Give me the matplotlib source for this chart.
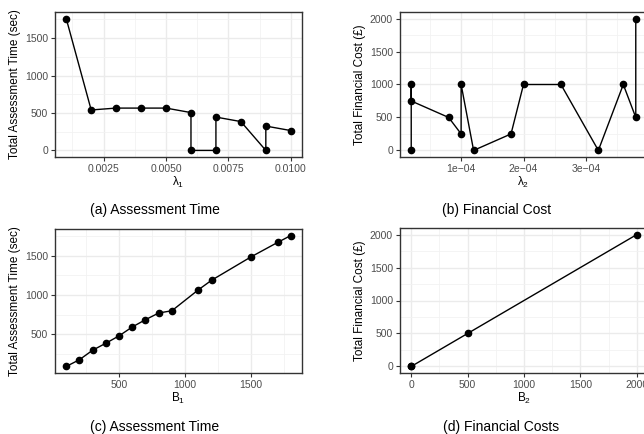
import numpy as np
import matplotlib.pyplot as plt
from matplotlib.ticker import MultipleLocator, FuncFormatter

plt.rcParams['font.family'] = ['Liberation Sans', 'DejaVu Sans']
plt.rcParams['mathtext.fontset'] = 'custom'
plt.rcParams['mathtext.rm'] = 'Liberation Sans'
plt.rcParams['mathtext.it'] = 'Liberation Sans'

# (a) assessment time vs lambda_1
lam1 = [0.001, 0.002, 0.003, 0.004, 0.005, 0.006, 0.006, 0.007, 0.007, 0.008, 0.009, 0.009, 0.010]
time_a = [1760, 540, 565, 565, 565, 505, 0, 0, 445, 385, 0, 325, 265]

# (b) financial cost vs lambda_2
lam2 = [2e-5, 2e-5, 2e-5, 8e-5, 1e-4, 1e-4, 1.2e-4, 1.8e-4, 2e-4, 2.6e-4, 3.2e-4, 3.6e-4, 3.8e-4, 3.8e-4]
cost_b = [0, 1000, 750, 500, 250, 1000, 0, 250, 1000, 1000, 0, 1000, 500, 2000]

# (c) assessment time vs B_1
b1 = [100, 200, 300, 400, 500, 600, 700, 800, 900, 1100, 1200, 1500, 1700, 1800]
time_c = [90, 176, 297, 386, 480, 593, 686, 771, 800, 1066, 1188, 1487, 1670, 1758]

# (d) financial cost vs B_2
b2 = [0, 0, 500, 2000]
cost_d = [0, 0, 500, 2000]

W, H = 644, 434
fig = plt.figure(figsize=(W / 100, H / 100), dpi=100)


def make_ax(left, right, top, bottom):
    return fig.add_axes([left / W, 1 - bottom / H, (right - left) / W, (bottom - top) / H])


def style(ax, x, y, xmajor, ymajor, xfmt=None):
    xr = max(x) - min(x)
    yr = max(y) - min(y)
    ax.set_xlim(min(x) - 0.05 * xr, max(x) + 0.05 * xr)
    ax.set_ylim(min(y) - 0.05 * yr, max(y) + 0.05 * yr)
    ax.xaxis.set_major_locator(MultipleLocator(xmajor))
    ax.xaxis.set_minor_locator(MultipleLocator(xmajor / 2))
    ax.yaxis.set_major_locator(MultipleLocator(ymajor))
    ax.yaxis.set_minor_locator(MultipleLocator(ymajor / 2))
    if xfmt:
        ax.xaxis.set_major_formatter(FuncFormatter(xfmt))
    ax.grid(which='major', color='#EBEBEB', lw=1.0, zorder=0)
    ax.grid(which='minor', color='#F2F2F2', lw=0.6, zorder=0)
    ax.set_axisbelow(True)
    for s in ax.spines.values():
        s.set_color('#333333')
        s.set_linewidth(1.0)
    ax.tick_params(which='major', length=3, width=0.8, color='#333333',
                   labelsize=7.5, labelcolor='#4D4D4D', pad=2)
    ax.tick_params(which='minor', length=0)
    ax.plot(x, y, color='black', lw=1.0, marker='o', ms=4.5, zorder=3, clip_on=False)


ax_a = make_ax(55, 302, 12, 157)
style(ax_a, lam1, time_a, 0.0025, 500, lambda v, p: f'{v:.4f}')
ax_a.set_xlabel(r'$\mathrm{\lambda_1}$', fontsize=8.5, labelpad=1)
ax_a.set_ylabel('Total Assessment Time (sec)', fontsize=8.5, labelpad=3)

ax_b = make_ax(400, 647, 12, 157)
style(ax_b, lam2, cost_b, 1e-4, 500, lambda v, p: f'{v:.0e}'.replace('-0', '\u22120'))
ax_b.set_xlabel(r'$\mathrm{\lambda_2}$', fontsize=8.5, labelpad=1)
ax_b.set_ylabel('Total Financial Cost (£)', fontsize=8.5, labelpad=3)

ax_c = make_ax(55, 302, 229, 373)
style(ax_c, b1, time_c, 500, 500)
ax_c.set_xlabel(r'$\mathrm{B_1}$', fontsize=8.5, labelpad=1)
ax_c.set_ylabel('Total Assessment Time (sec)', fontsize=8.5, labelpad=3)

ax_d = make_ax(400, 648, 228, 373)
style(ax_d, b2, cost_d, 500, 500)
ax_d.set_xlabel(r'$\mathrm{B_2}$', fontsize=8.5, labelpad=1)
ax_d.set_ylabel('Total Financial Cost (£)', fontsize=8.5, labelpad=3)

fig.text(155 / W, 1 - 210 / H, '(a) Assessment Time', ha='center', va='center', fontsize=10)
fig.text(497 / W, 1 - 210 / H, '(b) Financial Cost', ha='center', va='center', fontsize=10)
fig.text(155 / W, 1 - 427 / H, '(c) Assessment Time', ha='center', va='center', fontsize=10)
fig.text(501 / W, 1 - 427 / H, '(d) Financial Costs', ha='center', va='center', fontsize=10)

fig.savefig('out.png', dpi=100)
